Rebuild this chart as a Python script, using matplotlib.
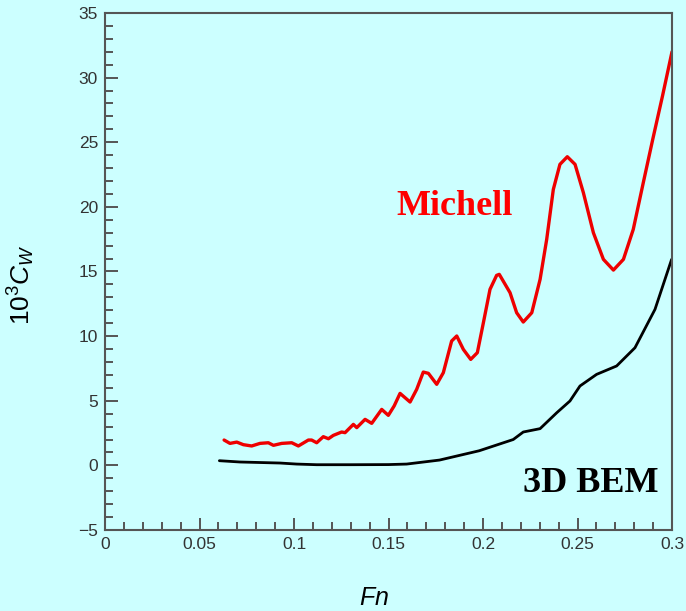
import matplotlib
matplotlib.use("Agg")
import matplotlib.pyplot as plt
from matplotlib.ticker import MultipleLocator

plt.rcParams['font.family'] = ['Liberation Sans', 'DejaVu Sans']
plt.rcParams['mathtext.fontset'] = 'custom'
plt.rcParams['mathtext.rm'] = 'Liberation Sans'
plt.rcParams['mathtext.it'] = 'Liberation Sans:italic'

# Michell (red) curve
michell_fn = [0.0630, 0.0661, 0.0697, 0.0732, 0.0776, 0.0820, 0.0864, 0.0891, 0.0935,
              0.0988, 0.1023, 0.1076, 0.1093, 0.1120, 0.1155, 0.1182, 0.1208, 0.1252,
              0.1270, 0.1314, 0.1332, 0.1376, 0.1411, 0.1464, 0.1499, 0.1530, 0.1561,
              0.1614, 0.1649, 0.1684, 0.1711, 0.1755, 0.1790, 0.1834, 0.1861, 0.1896,
              0.1935, 0.1970, 0.2002, 0.2037, 0.2072, 0.2086, 0.2143, 0.2178, 0.2213,
              0.2258, 0.2302, 0.2337, 0.2372, 0.2407, 0.2446, 0.2487, 0.2531, 0.2584,
              0.2637, 0.2690, 0.2743, 0.2795, 0.2848, 0.2898, 0.2950, 0.3000]
michell_cw = [1.96, 1.70, 1.80, 1.60, 1.50, 1.70, 1.75, 1.55, 1.70,
              1.75, 1.50, 1.96, 1.96, 1.75, 2.22, 2.06, 2.32, 2.58,
              2.53, 3.17, 2.92, 3.56, 3.25, 4.33, 3.87, 4.60, 5.57,
              4.90, 5.88, 7.22, 7.12, 6.27, 7.17, 9.62, 10.01, 8.97,
              8.20, 8.72, 11.04, 13.62, 14.70, 14.78, 13.36, 11.81, 11.09,
              11.81, 14.39, 17.49, 21.35, 23.29, 23.88, 23.29, 21.10, 18.00,
              15.94, 15.11, 15.94, 18.26, 21.87, 25.22, 28.6, 32.0]

# 3D BEM (black) curve
bem_fn = [0.0605, 0.0714, 0.0926, 0.1014, 0.1120, 0.1300, 0.1500, 0.1596, 0.1770,
          0.1980, 0.2160, 0.2213, 0.2302, 0.2390, 0.2460, 0.2513, 0.2601, 0.2707,
          0.2804, 0.2910, 0.2998]
bem_cw = [0.36, 0.26, 0.18, 0.10, 0.05, 0.05, 0.06, 0.10, 0.41,
          1.13, 2.00, 2.58, 2.84, 4.07, 4.98, 6.14, 7.04, 7.69,
          9.10, 12.07, 15.94]

x_ticks = [0, 0.05, 0.1, 0.15, 0.2, 0.25, 0.3]
x_tick_labels = ['0', '0.05', '0.1', '0.15', '0.2', '0.25', '0.3']
y_ticks = [-5, 0, 5, 10, 15, 20, 25, 30, 35]

bg = '#ccffff'
fig = plt.figure(figsize=(6.86, 6.11), dpi=100, facecolor=bg)
ax = fig.add_axes([0.1531, 0.1326, 0.8265, 0.8461], facecolor=bg)

ax.plot(michell_fn, michell_cw, color='#ee0000', lw=2.4,
        solid_joinstyle='round', solid_capstyle='round')
ax.plot(bem_fn, bem_cw, color='black', lw=2.0,
        solid_joinstyle='round', solid_capstyle='round')

ax.set_xlim(0, 0.3)
ax.set_ylim(-5, 35)
ax.set_xticks(x_ticks)
ax.set_xticklabels(x_tick_labels)
ax.set_yticks(y_ticks)
ax.xaxis.set_minor_locator(MultipleLocator(0.01))
ax.yaxis.set_minor_locator(MultipleLocator(1))
ax.tick_params(which='both', direction='in', top=False, right=False,
               colors='#555555', labelcolor='#333333', labelsize=12.5, width=1.4)
ax.tick_params(which='major', length=9, pad=5)
ax.tick_params(which='minor', length=5.5)
for s in ax.spines.values():
    s.set_color('#555555')
    s.set_linewidth(1.5)

ax.set_xlabel('$Fn$', fontsize=18, color='black')
ax.xaxis.set_label_coords(0.475, -0.108)
ax.set_ylabel(r'$\mathregular{10^3}C_W$', fontsize=19, color='black')
ax.yaxis.set_label_coords(-0.12, 0.474)

ax.text(0.185, 20.0, 'Michell', color='#ff0000', fontsize=26, fontweight='bold',
        family='Liberation Serif', ha='center', va='center')
ax.text(0.257, -1.4, '3D BEM', color='black', fontsize=26, fontweight='bold',
        family='Liberation Serif', ha='center', va='center')

fig.savefig('out.png', dpi=100, facecolor=bg)
